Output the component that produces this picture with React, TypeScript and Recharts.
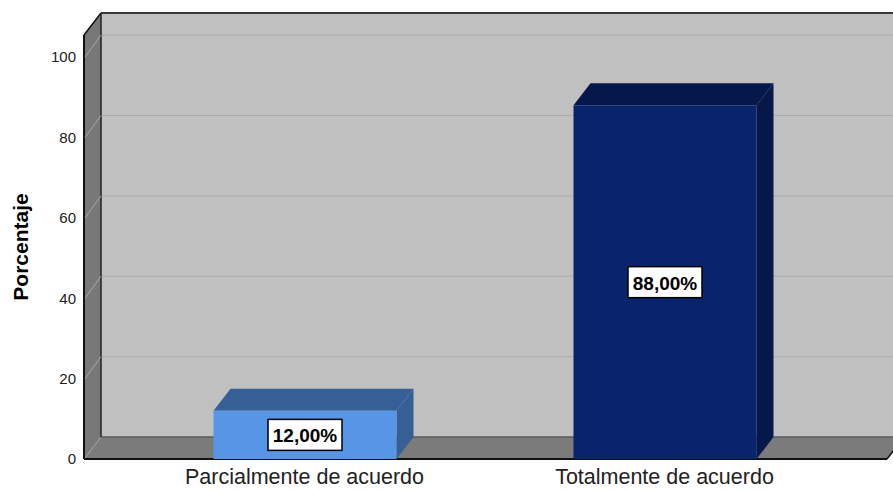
import React from "react";
import {
  Bar,
  BarChart,
  LabelList,
  ReferenceArea,
  XAxis,
  YAxis,
} from "recharts";

const categories = ["Parcialmente de acuerdo", "Totalmente de acuerdo"];
const percentages = [12, 88];
const yTicks = [0, 20, 40, 60, 80, 100];
const gridValues = [20, 40, 60, 80, 100];
const yMax = 105.5;

const frontColors = ["#5796e6", "#0a246b"];
const shadeColors = ["#365f96", "#06184a"];

// depth of the fake 3D
const DX = 17;
const DY = -22;
// x-axis padding, walls are extended by the same amount
const PAD_L = 40.5;
const PAD_R = 42.5;

const FONT = "'Liberation Sans', Arial, sans-serif";

const data = categories.map((name, i) => ({ name, value: percentages[i] }));

function Walls(props: any) {
  const { x, y, width, height } = props;
  const l = x - PAD_L;
  const r = x + width + PAD_R;
  const t = y;
  const b = y + height;
  return (
    <g>
      <rect x={l + DX} y={t + DY} width={r - l} height={height} fill="#c0c0c0" />
      <polygon
        points={`${l},${t} ${l + DX},${t + DY} ${l + DX},${b + DY} ${l},${b}`}
        fill="#787878"
      />
      <polygon
        points={`${l},${b} ${l + DX},${b + DY} ${r + DX},${b + DY} ${r},${b}`}
        fill="#7b7b7b"
      />
      <line x1={l + DX} y1={b + DY} x2={r + DX} y2={b + DY} stroke="#5a5a5a" strokeWidth={1.5} />
      <line x1={l} y1={b} x2={l + DX} y2={b + DY} stroke="#a0a0a0" strokeWidth={1} />
      <line x1={l + DX} y1={t + DY} x2={l + DX} y2={b + DY} stroke="#222" strokeWidth={1.5} />
      <line x1={l + DX} y1={t + DY} x2={r + DX} y2={t + DY} stroke="#3a3a3a" strokeWidth={2} />
      <line x1={l} y1={t} x2={l + DX} y2={t + DY} stroke="#111" strokeWidth={1.5} />
      <line x1={l} y1={t} x2={l} y2={b} stroke="#111" strokeWidth={2} />
      <line x1={l} y1={b} x2={r} y2={b} stroke="#111" strokeWidth={2} />
      <line x1={r} y1={b} x2={r + DX} y2={b + DY} stroke="#111" strokeWidth={1.5} />
    </g>
  );
}

// gridline drawn at the bottom edge of an area that runs from the tick to the top
function GridLine(props: any) {
  const { x, y, width, height } = props;
  const l = x - PAD_L;
  const r = x + width + PAD_R;
  const gy = y + height;
  return (
    <g>
      <line x1={l + DX + 1} y1={gy + DY} x2={r + DX} y2={gy + DY} stroke="#acacac" strokeWidth={1} />
      <line x1={l + 1} y1={gy} x2={l + DX} y2={gy + DY} stroke="#a9a9a9" strokeWidth={1} />
    </g>
  );
}

function Box3D(props: any) {
  const { x, y, width, height, index } = props;
  const front = frontColors[index];
  const shade = shadeColors[index];
  const top = `${x},${y} ${x + DX},${y + DY} ${x + width + DX},${y + DY} ${x + width},${y}`;
  const side = `${x + width},${y} ${x + width + DX},${y + DY} ${x + width + DX},${y + height + DY} ${x + width},${y + height}`;
  return (
    <g>
      <polygon points={side} fill={shade} />
      <polygon points={top} fill={shade} />
      <rect x={x} y={y} width={width} height={height} fill={front} />
    </g>
  );
}

function ValueBox(props: any) {
  const { x, y, width, height, value } = props;
  const cx = x + width / 2;
  const cy = y + height / 2;
  const text = value.toFixed(2).replace(".", ",") + "%";
  return (
    <g>
      <rect x={cx - 37} y={cy - 15.5} width={74} height={31} fill="#fff" stroke="#000" strokeWidth={1.5} />
      <text
        x={cx}
        y={cy + 1}
        textAnchor="middle"
        dominantBaseline="central"
        fontFamily={FONT}
        fontWeight="bold"
        fontSize={19}
        fill="#000"
      >
        {text}
      </text>
    </g>
  );
}

export default function App() {
  return (
    <div style={{ position: "absolute", left: 0, top: 0, background: "#fff" }}>
      <BarChart
        width={893}
        height={490}
        data={data}
        margin={{ top: 35, right: 6, bottom: 0, left: 0 }}
        barSize={183}
      >
        <ReferenceArea y1={0} y2={yMax} shape={<Walls />} />
        {gridValues.map((v) => (
          <ReferenceArea key={v} y1={v} y2={yMax} shape={<GridLine />} />
        ))}
        <XAxis
          dataKey="name"
          height={31}
          padding={{ left: PAD_L, right: PAD_R }}
          axisLine={false}
          tickLine={false}
          tickMargin={4}
          tick={{ fontSize: 21.5, fill: "#222", fontFamily: FONT }}
        />
        <YAxis
          width={84}
          domain={[0, yMax]}
          ticks={yTicks}
          axisLine={false}
          tickLine={false}
          tick={{ fontSize: 15, fill: "#222", fontFamily: FONT }}
          label={{
            value: "Porcentaje",
            angle: -90,
            position: "center",
            dx: -21,
            style: { fontSize: 21, fontWeight: "bold", fill: "#000", fontFamily: FONT, textAnchor: "middle" },
          }}
        />
        <Bar dataKey="value" shape={<Box3D />} isAnimationActive={false}>
          <LabelList dataKey="value" content={<ValueBox />} />
        </Bar>
      </BarChart>
    </div>
  );
}
